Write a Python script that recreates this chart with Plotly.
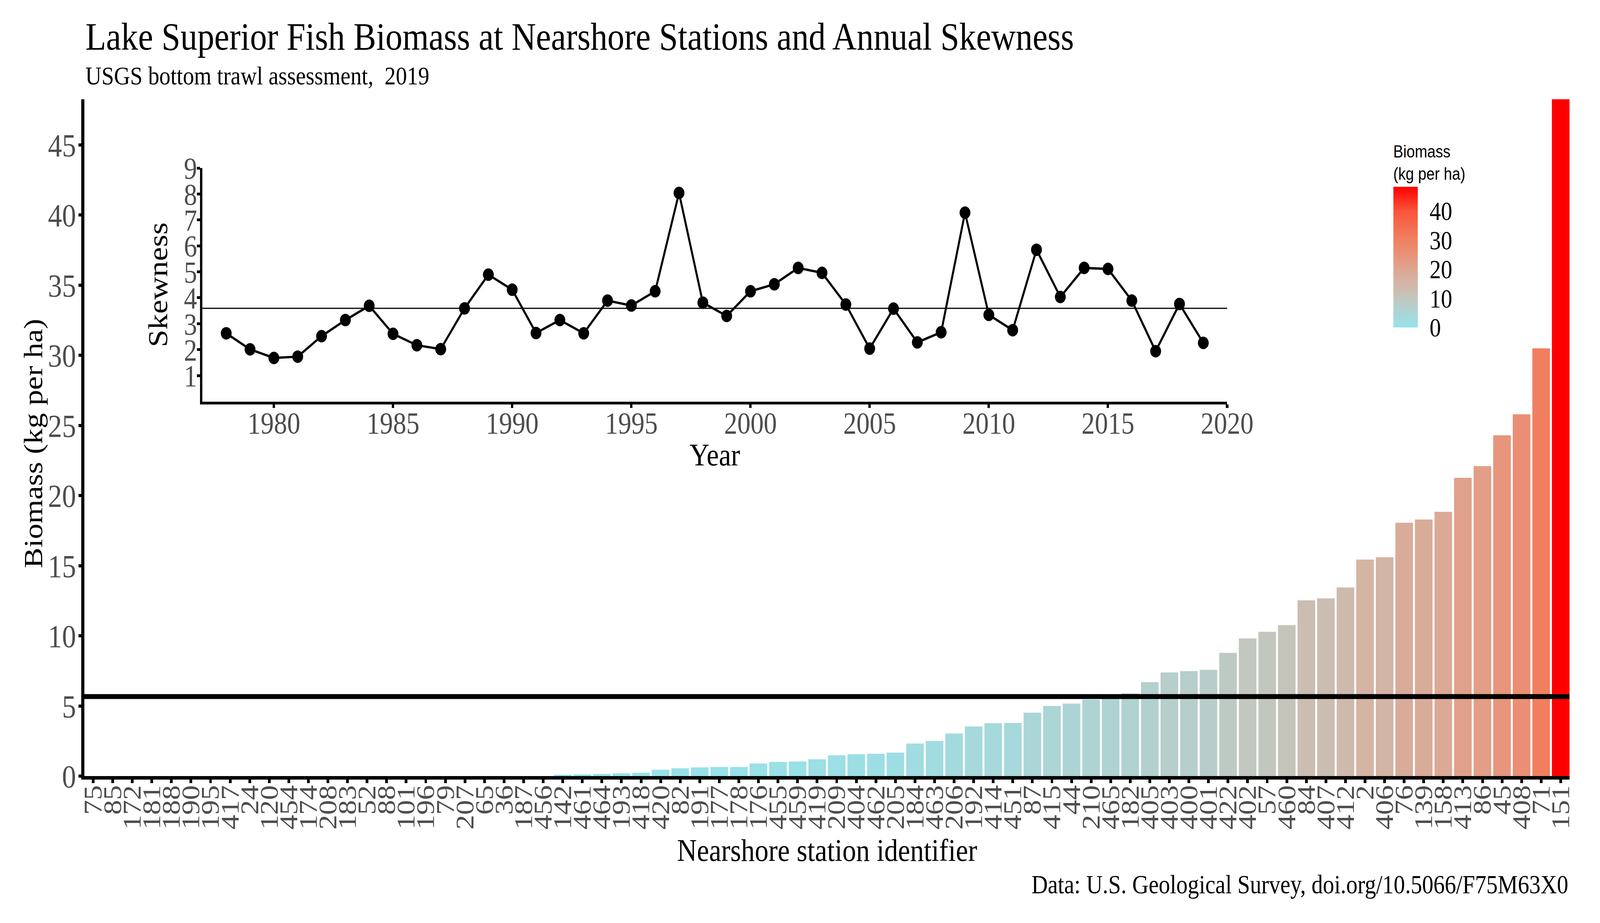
import plotly.graph_objects as go

# 2019 nearshore stations, sorted by fish biomass (kg per ha)
stations = ["75", "85", "172", "181", "188", "190", "195", "417", "24", "120",
            "454", "174", "208", "183", "52", "88", "101", "196", "79", "207",
            "65", "36", "187", "456", "142", "461", "464", "193", "418", "420",
            "82", "191", "177", "178", "176", "455", "459", "419", "209", "404",
            "462", "205", "184", "463", "206", "192", "414", "451", "87", "415",
            "44", "210", "465", "182", "405", "403", "400", "401", "422", "402",
            "57", "460", "84", "407", "412", "2", "406", "76", "139", "158",
            "413", "86", "45", "408", "71", "151"]
biomass = [0, 0, 0, 0, 0, 0, 0, 0, 0, 0,
           0, 0, 0, 0, 0, 0, 0, 0, 0, 0,
           0, 0, 0, 0, 0.1, 0.12, 0.15, 0.2, 0.24, 0.45,
           0.56, 0.62, 0.65, 0.65, 0.9, 1.01, 1.04, 1.2, 1.48, 1.56,
           1.59, 1.67, 2.32, 2.51, 3.04, 3.54, 3.77, 3.79, 4.52, 5.0,
           5.17, 5.45, 5.58, 5.9, 6.7, 7.39, 7.48, 7.58, 8.78, 9.81,
           10.29, 10.76, 12.53, 12.67, 13.45, 15.43, 15.6, 18.06, 18.29, 18.84,
           21.26, 22.1, 24.29, 25.79, 30.49, 48.25]

# annual skewness of station biomass
years = [1978, 1979, 1980, 1981, 1982, 1983, 1984, 1985, 1986, 1987,
         1988, 1989, 1990, 1991, 1992, 1993, 1994, 1995, 1996, 1997,
         1998, 1999, 2000, 2001, 2002, 2003, 2004, 2005, 2006, 2007,
         2008, 2009, 2010, 2011, 2012, 2013, 2014, 2015, 2016, 2017,
         2018, 2019]
skewness = [2.63, 2.01, 1.68, 1.73, 2.52, 3.14, 3.69, 2.61, 2.17, 2.02,
            3.59, 4.89, 4.31, 2.64, 3.14, 2.63, 3.89, 3.70, 4.25, 8.04,
            3.81, 3.30, 4.25, 4.52, 5.15, 4.96, 3.74, 2.04, 3.58, 2.28,
            2.67, 7.28, 3.34, 2.75, 5.85, 4.03, 5.15, 5.11, 3.89, 1.94,
            3.76, 2.26]

biomass_ticks = [0, 5, 10, 15, 20, 25, 30, 35, 40, 45]
legend_ticks = [0, 10, 20, 30, 40]
year_ticks = [1980, 1985, 1990, 1995, 2000, 2005, 2010, 2015, 2020]
skew_ticks = [1, 2, 3, 4, 5, 6, 7, 8, 9]

# fill colours along the biomass scale (cyan -> grey -> salmon -> red)
bmax = max(biomass)
color_stops = [(0, "#95e3eb"), (3.8, "#a7d8db"), (9.9, "#c2c7bf"), (12.6, "#ccbdb1"),
               (15.5, "#d4b4a5"), (18.1, "#d9ac9a"), (21.3, "#e0a18b"),
               (25.8, "#ea8f74"), (30.5, "#f17f5f"), (40, "#f8543a"), (bmax, "#ff0000")]
colorscale = [[v / bmax, c] for v, c in color_stops]

mean_biomass = sum(biomass) / len(biomass)
mean_skew = sum(skewness) / len(skewness)

# page geometry (pixels)
W, H = 4724, 2362
L, R, T, B = 249, 4665, 254, 1986


def fx(x):
    return (x - L) / (R - L)


def fy(y):
    return (B - y) / (B - T)


serif = "Liberation Serif"
grey = "#4d4d4d"

fig = go.Figure()

fig.add_trace(go.Bar(
    x=stations, y=biomass,
    marker=dict(color=biomass, colorscale=colorscale, cmin=0, cmax=bmax, line_width=0,
                colorbar=dict(
                    title=dict(text="Biomass<br>(kg per ha)", side="top",
                               font=dict(family="Liberation Sans", size=44, color="black")),
                    thickness=72, thicknessmode="pixels",
                    len=471, lenmode="pixels",
                    x=fx(4141), xanchor="left", y=fy(367), yanchor="top",
                    xpad=0, ypad=0, outlinewidth=0,
                    tickvals=legend_ticks, ticks="outside", ticklen=22,
                    tickcolor="white", tickwidth=2,
                    tickfont=dict(family=serif, size=67, color="black"))),
    showlegend=False, hoverinfo="x+y",
))

fig.add_trace(go.Scatter(
    x=years, y=skewness, xaxis="x2", yaxis="y2", mode="lines+markers",
    line=dict(color="black", width=6), marker=dict(color="black", size=32),
    showlegend=False,
))

# mean lines
fig.add_shape(type="line", xref="paper", yref="y", x0=0, x1=1,
              y0=mean_biomass, y1=mean_biomass, line=dict(color="black", width=12.5))
fig.add_shape(type="line", xref="x2 domain", yref="y2", x0=0, x1=1,
              y0=mean_skew, y1=mean_skew, line=dict(color="black", width=3))

fig.update_layout(
    width=W, height=H,
    margin=dict(l=L, r=W - R, t=T, b=H - B, pad=0),
    paper_bgcolor="white", plot_bgcolor="rgba(0,0,0,0)",
    bargap=0.1,
    font=dict(family=serif, color="black"),
    xaxis=dict(type="category", range=[-0.45, len(stations) - 0.55],
               tickmode="array", tickvals=stations, ticktext=stations,
               tickangle=-90, tickfont=dict(size=76, color=grey), ticklabelstandoff=-25,
               showline=True, linecolor="black", linewidth=8.5,
               ticks="outside", ticklen=9, tickwidth=8, tickcolor="black",
               showgrid=False, zeroline=False),
    yaxis=dict(range=[0, 48.25], tickvals=biomass_ticks,
               tickfont=dict(size=83, color=grey), ticklabelstandoff=-10,
               showline=True, linecolor="black", linewidth=8.5,
               ticks="outside", ticklen=9, tickwidth=8, tickcolor="black",
               showgrid=False, zeroline=False),
    xaxis2=dict(domain=[fx(600), fx(3647)], anchor="y2", range=[1977.0, 2020],
                tickvals=year_ticks, tickfont=dict(size=78, color=grey), ticklabelstandoff=-28,
                showline=True, linecolor="black", linewidth=7,
                ticks="outside", ticklen=9, tickwidth=7, tickcolor="black",
                showgrid=False, zeroline=False),
    yaxis2=dict(domain=[fy(1027.5), fy(430)], anchor="x2", range=[0, 9],
                tickvals=skew_ticks, tickfont=dict(size=78, color=grey), ticklabelstandoff=-16,
                showline=True, linecolor="black", linewidth=7,
                ticks="outside", ticklen=9, tickwidth=7, tickcolor="black",
                showgrid=False, zeroline=False),
)

annotations = [
    dict(text="Lake Superior Fish Biomass at Nearshore Stations and Annual Skewness",
         x=fx(250), y=fy(94), size=100, xanchor="left"),
    dict(text="USGS bottom trawl assessment,\u00a0 2019",
         x=fx(250), y=fy(194), size=66, xanchor="left"),
    dict(text="Nearshore station identifier", x=0.5, y=fy(2176), size=81, xanchor="center"),
    dict(text="Biomass (kg per ha)", x=fx(96), y=fy(1135), size=79, xanchor="center", angle=-90),
    dict(text="Skewness", x=fx(468), y=fy(728), size=81, xanchor="center", angle=-90),
    dict(text="Year", x=fx(2124), y=fy(1164), size=81, xanchor="center"),
    dict(text="Data: U.S. Geological Survey, doi.org/10.5066/F75M63X0",
         x=fx(4664), y=fy(2263), size=67, xanchor="right"),
]
for a in annotations:
    fig.add_annotation(text=a["text"], x=a["x"], y=a["y"], xref="paper", yref="paper",
                       xanchor=a["xanchor"], yanchor="middle", showarrow=False,
                       textangle=a.get("angle", 0),
                       font=dict(family=serif, size=a["size"], color="black"))

# fit the drawn figure to the browser viewport so the whole frame is filled
fit_js = """
var gd = document.getElementById('{plot_id}');
var sx = window.innerWidth / %d, sy = window.innerHeight / %d;
document.documentElement.style.overflow = 'hidden';
document.body.style.margin = '0';
document.body.style.overflow = 'hidden';
document.body.style.width = window.innerWidth + 'px';
document.body.style.height = window.innerHeight + 'px';
gd.style.transformOrigin = '0 0';
gd.style.transform = 'scale(' + sx + ',' + sy + ')';
""" % (W, H)

fig.write_html("out.html", post_script=fit_js, config={"displayModeBar": False})
